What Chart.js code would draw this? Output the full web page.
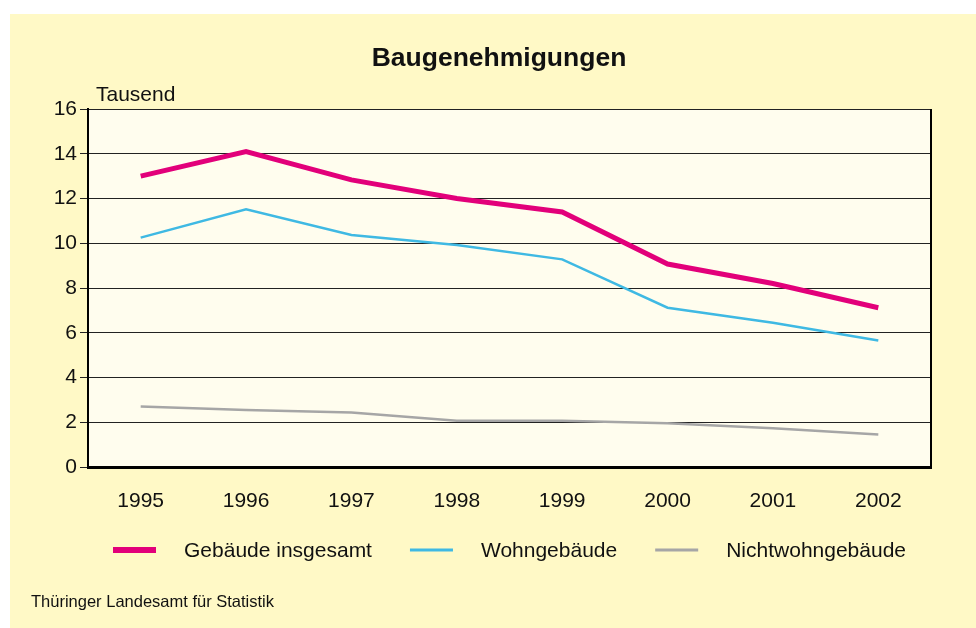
<!DOCTYPE html>
<html>
<head>
    <meta charset="utf-8">
    <script src="https://cdn.jsdelivr.net/npm/chart.js"></script>
    <title>Baugenehmigungen</title>
    <style>
        html, body {
            margin: 0;
            padding: 0;
            background: #fff;
        }
        #panel {
            position: absolute;
            left: 10px;
            top: 14px;
            width: 966px;
            height: 614px;
            background: #fff9c6;
        }
    </style>
</head>
<body>

<div id="panel">
    <canvas id="bauChart" width="966" height="614"></canvas>
</div>

<script>
    // Jahre und Werte (Tausend)
    var years = ['1995', '1996', '1997', '1998', '1999', '2000', '2001', '2002'];
    var gebaeudeGesamt = [13.0, 14.1, 12.83, 12.0, 11.4, 9.07, 8.2, 7.12];
    var wohngebaeude = [10.25, 11.52, 10.37, 9.92, 9.28, 7.12, 6.45, 5.65];
    var nichtwohngebaeude = [2.7, 2.55, 2.44, 2.07, 2.07, 1.95, 1.73, 1.45];

    var seriesNames = ['Gebäude insgesamt', 'Wohngebäude', 'Nichtwohngebäude'];
    var yTicks = [0, 2, 4, 6, 8, 10, 12, 14, 16];

    var fontFamily = "'Liberation Sans', Arial, sans-serif";

    // Plot background, right border, title, "Tausend", legend and source
    var decorPlugin = {
        id: 'decor',
        beforeDraw: function (chart) {
            var ctx = chart.ctx, a = chart.chartArea;
            ctx.save();
            ctx.fillStyle = '#fffdee';
            ctx.fillRect(a.left, a.top, a.right - a.left, a.bottom - a.top);
            ctx.restore();
        },
        afterDraw: function (chart) {
            var ctx = chart.ctx, a = chart.chartArea;
            ctx.save();
            // right border
            ctx.strokeStyle = '#000';
            ctx.lineWidth = 2;
            ctx.beginPath();
            ctx.moveTo(a.right, a.top);
            ctx.lineTo(a.right, a.bottom);
            ctx.stroke();

            // title
            ctx.fillStyle = '#111';
            ctx.textBaseline = 'alphabetic';
            ctx.textAlign = 'center';
            ctx.font = 'bold 26.5px ' + fontFamily;
            ctx.fillText('Baugenehmigungen', 489, 52);

            ctx.textAlign = 'left';
            ctx.font = '21px ' + fontFamily;
            ctx.fillText('Tausend', a.left + 8, a.top - 8);

            // legend
            var boxW = 43, gap = 28, itemGap = 38;
            var ds = chart.data.datasets;
            var widths = ds.map(function (d) { return boxW + gap + ctx.measureText(d.label).width; });
            var total = widths.reduce(function (s, w) { return s + w; }, 0) + itemGap * (ds.length - 1);
            var x = (a.left + a.right) / 2 - total / 2;
            var y = a.bottom + 83;
            ctx.textBaseline = 'middle';
            ds.forEach(function (d, i) {
                ctx.fillStyle = d.borderColor;
                var h = d.legendThickness;
                ctx.fillRect(x, y - h / 2, boxW, h);
                ctx.fillStyle = '#111';
                ctx.fillText(d.label, x + boxW + gap, y + 1);
                x += widths[i] + itemGap;
            });

            // source
            ctx.font = '16.5px ' + fontFamily;
            ctx.fillText('Thüringer Landesamt für Statistik', 21, 588);
            ctx.restore();
        }
    };

    var ctx = document.getElementById('bauChart').getContext('2d');
    var bauChart = new Chart(ctx, {
        type: 'line',
        data: {
            labels: years,
            datasets: [
                {
                    label: seriesNames[0],
                    data: gebaeudeGesamt,
                    borderColor: '#e2007a',
                    borderWidth: 5,
                    legendThickness: 6
                },
                {
                    label: seriesNames[1],
                    data: wohngebaeude,
                    borderColor: '#3fb9e3',
                    borderWidth: 2.5,
                    legendThickness: 3
                },
                {
                    label: seriesNames[2],
                    data: nichtwohngebaeude,
                    borderColor: '#a6a6a6',
                    borderWidth: 2.5,
                    legendThickness: 3
                }
            ]
        },
        options: {
            responsive: false,
            animation: false,
            layout: {
                padding: { left: 18, right: 45, top: 95, bottom: 111 }
            },
            elements: {
                point: { radius: 0 },
                line: { tension: 0, borderCapStyle: 'butt', borderJoinStyle: 'miter' }
            },
            plugins: {
                legend: { display: false },
                tooltip: { enabled: false },
                title: { display: false }
            },
            scales: {
                x: {
                    offset: true,
                    grid: { display: false },
                    border: { display: true, color: '#000', width: 3 },
                    ticks: {
                        color: '#111',
                        font: { family: fontFamily, size: 21 },
                        padding: 14,
                        maxRotation: 0
                    },
                    afterFit: function (scale) { scale.height = 50; }
                },
                y: {
                    min: 0,
                    max: 16,
                    afterBuildTicks: function (scale) {
                        scale.ticks = yTicks.map(function (v) { return { value: v }; });
                    },
                    grid: { color: '#222', lineWidth: 1, tickLength: 8 },
                    border: { display: true, color: '#000', width: 2 },
                    ticks: {
                        color: '#111',
                        font: { family: fontFamily, size: 21 },
                        padding: 3
                    },
                    afterFit: function (scale) { scale.width = 60; }
                }
            }
        },
        plugins: [decorPlugin]
    });
</script>

</body>
</html>
